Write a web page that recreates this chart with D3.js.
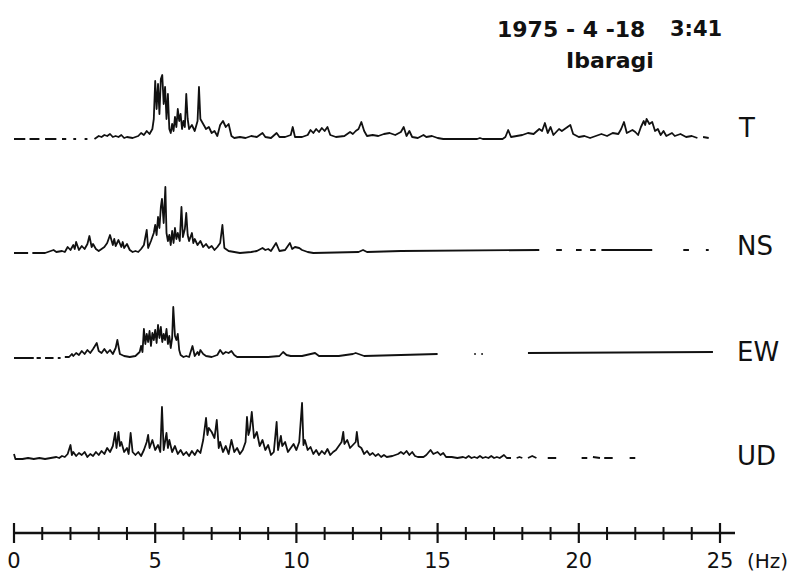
<!DOCTYPE html>
<html>
<head>
<meta charset="utf-8">
<script src="https://cdn.jsdelivr.net/npm/d3@7"></script>
<style>
  body { margin: 0; background: #fff; }
  svg { display: block; }
  text { font-family: "DejaVu Sans", sans-serif; fill: #111; }
</style>
</head>
<body>
<svg id="chart" width="803" height="574"></svg>
<script>
// Fourier spectra, 1975-4-18 3:41 Ibaragi. [frequency (Hz), amplitude]; null = break in the trace
const tSpectrum = [
  [0,0],[0.4,0],[0.45,null],[0.55,0],[0.9,0],[0.95,null],[1.1,0],[1.5,0],[1.55,null],[1.7,0],[1.85,0],[1.9,null],
  [2.1,0],[2.2,0],[2.25,null],[2.5,0],[2.6,0],[2.65,null],[2.85,0],
  [2.9,1],[3.0,3],[3.1,2],[3.2,4],[3.3,3],[3.4,5],[3.5,2],[3.6,3],[3.7,2],[3.8,4],[3.9,1],[4.0,2],[4.2,1],
  [4.4,3],[4.5,6],[4.6,4],[4.7,8],[4.8,5],[4.9,10],[4.95,20],[5.0,58],[5.05,30],[5.1,55],[5.15,25],[5.2,60],
  [5.25,64],[5.3,35],[5.35,52],[5.4,20],[5.45,45],[5.5,10],[5.55,6],[5.6,15],[5.65,8],[5.7,22],[5.75,12],
  [5.8,30],[5.85,18],[5.9,25],[5.95,10],[6.0,18],[6.05,12],[6.1,45],[6.15,20],[6.2,10],[6.3,14],[6.4,8],
  [6.5,18],[6.55,52],[6.6,20],[6.7,15],[6.8,10],[6.9,12],[7.0,6],[7.1,8],[7.2,3],[7.3,14],[7.4,18],[7.5,12],
  [7.6,15],[7.7,3],[7.8,1],[8.0,2],[8.2,1],[8.4,3],[8.6,2],[8.8,6],[8.9,2],[9.1,1],[9.3,6],[9.4,2],[9.6,2],
  [9.8,4],[9.87,12],[9.95,2],[10.2,2],[10.4,4],[10.5,9],[10.6,6],[10.7,10],[10.8,7],[10.9,11],[11.0,8],
  [11.1,12],[11.2,4],[11.4,2],[11.7,3],[11.9,7],[12.0,5],[12.1,8],[12.2,10],[12.3,17],[12.4,8],[12.5,3],
  [12.7,4],[12.9,3],[13.1,5],[13.3,6],[13.5,4],[13.7,7],[13.8,12],[13.9,3],[14.0,8],[14.1,2],[14.3,1],
  [14.5,4],[14.6,2],[14.8,3],[15.0,1],[15.2,0],[16.4,0],[16.5,1],[16.6,0],[17.3,0],[17.4,2],[17.5,9],
  [17.6,2],[17.8,3],[18.0,4],[18.2,6],[18.4,5],[18.6,10],[18.7,8],[18.8,16],[18.9,6],[19.0,12],[19.1,4],
  [19.3,10],[19.4,8],[19.6,12],[19.7,14],[19.8,5],[20.0,2],[20.2,3],[20.4,1],[20.6,3],[20.8,5],[21.0,3],
  [21.2,6],[21.4,5],[21.5,10],[21.6,17],[21.7,6],[21.9,9],[22.0,7],[22.1,4],[22.2,12],[22.3,18],[22.35,14],
  [22.4,20],[22.5,15],[22.6,17],[22.7,8],[22.8,10],[22.9,4],[23.0,8],[23.1,3],[23.3,6],[23.4,3],[23.6,5],
  [23.8,2],[24.0,3],[24.2,1],[24.3,null],[24.4,2],[24.6,1]
];

const nsSpectrum = [
  [0,0],[0.5,0],[0.55,null],[0.65,0],[1.1,0],[1.2,1],[1.4,3],[1.5,1],[1.7,2],[1.8,1],[1.9,6],[2.0,3],[2.1,8],
  [2.15,4],[2.2,11],[2.3,3],[2.4,7],[2.5,4],[2.6,9],[2.67,17],[2.75,6],[2.8,9],[2.9,4],[3.0,2],[3.1,4],
  [3.2,6],[3.3,10],[3.4,18],[3.5,8],[3.55,14],[3.6,7],[3.7,13],[3.8,6],[3.85,11],[3.9,5],[4.0,9],[4.1,3],
  [4.2,1],[4.3,2],[4.4,1],[4.5,4],[4.6,8],[4.7,23],[4.75,5],[4.85,12],[4.95,20],[5.0,28],[5.05,18],[5.1,36],
  [5.15,25],[5.2,46],[5.24,54],[5.3,30],[5.36,66],[5.4,20],[5.45,12],[5.5,18],[5.55,8],[5.6,22],[5.65,10],
  [5.7,25],[5.75,14],[5.8,20],[5.87,12],[5.93,46],[5.98,16],[6.05,24],[6.1,40],[6.15,18],[6.2,12],[6.3,20],
  [6.35,10],[6.4,14],[6.5,8],[6.6,12],[6.7,6],[6.8,9],[6.9,5],[7.0,7],[7.1,3],[7.2,6],[7.3,10],[7.38,28],
  [7.45,5],[7.6,2],[7.8,1],[8.0,0],[8.4,1],[8.6,2],[8.8,5],[8.9,3],[9.0,4],[9.1,2],[9.28,10],[9.4,2],
  [9.6,3],[9.77,10],[9.85,4],[9.95,6],[10.1,5],[10.2,3],[10.4,1],[10.6,0],[12.2,1],[12.36,3],[12.5,1],
  [13.7,2],[18.6,3],[18.65,null],[19.2,3],[19.4,3],[19.45,null],[19.9,3],[20.1,3],[20.15,null],[20.4,3],
  [20.6,3],[20.65,null],[20.8,3],[22.6,3],[22.65,null],[23.7,3],[23.9,3],[23.95,null],[24.5,3],[24.6,3]
];

const ewSpectrum = [
  [0,0],[0.7,0],[0.75,null],[0.8,0],[0.95,0],[1.0,null],[1.1,0],[1.4,0],[1.45,null],[1.55,0],[1.65,0],
  [1.7,null],[1.8,1],[1.95,1],[2.05,4],[2.1,2],[2.2,5],[2.3,3],[2.4,7],[2.5,4],[2.6,8],[2.7,5],[2.8,9],
  [2.93,15],[3.0,7],[3.1,5],[3.2,9],[3.3,5],[3.4,8],[3.5,4],[3.6,10],[3.66,18],[3.75,4],[3.9,2],[4.1,1],
  [4.3,2],[4.45,6],[4.5,12],[4.55,6],[4.6,29],[4.65,14],[4.7,24],[4.75,16],[4.8,27],[4.85,12],[4.9,25],
  [4.95,18],[5.0,28],[5.05,15],[5.1,33],[5.15,20],[5.2,31],[5.25,16],[5.3,24],[5.35,18],[5.4,29],[5.45,14],
  [5.5,22],[5.55,10],[5.6,20],[5.64,51],[5.7,22],[5.75,18],[5.8,24],[5.85,8],[5.9,3],[6.0,1],[6.1,2],
  [6.2,1],[6.32,12],[6.4,2],[6.5,6],[6.55,3],[6.6,8],[6.7,4],[6.8,2],[7.0,1],[7.1,2],[7.2,3],[7.3,8],
  [7.4,4],[7.5,6],[7.6,5],[7.7,7],[7.8,3],[7.9,1],[8.2,1],[8.6,1],[9.0,1],[9.4,2],[9.53,6],[9.65,3],
  [9.8,2],[10.2,2],[10.66,5],[10.8,2],[11.5,2],[12.0,4],[12.1,5],[12.2,4],[12.4,2],[13.7,3],[15.0,4],
  [15.05,null],[16.3,4],[16.35,4],[16.4,null],[16.55,4],[16.6,4],[16.65,null],[18.2,5],[24.75,6]
];

const udSpectrum = [
  [0,6],[0.05,1],[0.3,1],[0.5,2],[0.7,1],[0.9,2],[1.1,1],[1.3,2],[1.5,3],[1.6,2],[1.7,4],[1.8,3],[1.9,6],
  [2.0,15],[2.05,5],[2.1,8],[2.2,4],[2.3,7],[2.4,5],[2.5,8],[2.6,3],[2.7,6],[2.8,4],[2.9,8],[3.0,5],[3.1,9],
  [3.2,6],[3.3,12],[3.4,8],[3.5,14],[3.58,27],[3.63,12],[3.7,28],[3.75,14],[3.8,18],[3.9,8],[4.0,12],
  [4.06,6],[4.13,27],[4.2,8],[4.3,5],[4.4,8],[4.5,4],[4.6,10],[4.7,18],[4.75,25],[4.8,12],[4.9,20],[5.0,10],
  [5.1,15],[5.18,8],[5.24,53],[5.3,10],[5.4,27],[5.45,12],[5.5,20],[5.6,8],[5.7,14],[5.8,6],[5.9,10],
  [6.0,5],[6.1,8],[6.2,4],[6.3,9],[6.4,5],[6.5,10],[6.6,7],[6.7,20],[6.8,42],[6.85,25],[6.9,32],[7.0,28],
  [7.1,22],[7.18,40],[7.25,12],[7.3,18],[7.4,8],[7.5,14],[7.6,6],[7.7,20],[7.8,8],[7.9,12],[8.0,6],[8.1,10],
  [8.2,18],[8.25,43],[8.3,25],[8.35,30],[8.42,48],[8.5,22],[8.6,28],[8.7,14],[8.8,20],[8.9,10],[9.0,15],
  [9.1,5],[9.2,8],[9.3,38],[9.35,10],[9.45,24],[9.5,14],[9.6,18],[9.7,8],[9.8,12],[9.9,16],[10.0,10],
  [10.1,18],[10.2,57],[10.25,15],[10.3,20],[10.4,10],[10.5,13],[10.6,6],[10.7,10],[10.8,5],[10.9,9],
  [11.0,6],[11.1,11],[11.2,5],[11.3,8],[11.4,10],[11.5,14],[11.6,18],[11.66,28],[11.7,16],[11.8,20],
  [11.9,12],[12.0,15],[12.1,18],[12.14,28],[12.2,14],[12.3,12],[12.4,6],[12.5,9],[12.6,5],[12.7,7],[12.8,4],
  [12.9,6],[13.0,3],[13.1,5],[13.2,3],[13.4,4],[13.6,6],[13.7,8],[13.8,6],[13.9,9],[14.0,5],[14.1,8],
  [14.2,4],[14.3,3],[14.5,3],[14.6,5],[14.75,10],[14.85,6],[15.0,8],[15.1,5],[15.2,7],[15.3,3],[15.5,3],
  [15.7,2],[15.9,3],[16.0,2],[16.1,4],[16.2,2],[16.3,3],[16.4,2],[16.5,4],[16.6,2],[16.7,3],[16.8,2],
  [16.9,4],[17.0,2],[17.1,3],[17.2,2],[17.35,5],[17.45,2],[17.6,2],[17.65,null],[17.8,2],[17.9,3],[18.0,2],
  [18.05,null],[18.2,2],[18.35,4],[18.5,2],[18.55,null],[18.9,2],[19.2,2],[19.25,null],[20.1,2],[20.3,2],
  [20.35,null],[20.5,3],[20.75,2],[20.8,null],[20.9,2],[21.2,2],[21.25,null],[21.8,2],[22.0,2]
];

const traceNames = ['T', 'NS', 'EW', 'UD'];
const traceData = [tSpectrum, nsSpectrum, ewSpectrum, udSpectrum];
const majorTicks = [0, 5, 10, 15, 20, 25];
const minorTicks = d3.range(0, 26, 1);

const LAYOUT = {
  x0: 14,
  x1: 720,
  axisY: 533,
  axisEnd: 735,
  baselines: [139, 253, 358, 460],
  ampHeight: 70,
  labelX: 737,
  labelY: [137, 255, 361, 465]
};

const svg = d3.select('#chart');

const x = d3.scaleLinear().domain([0, 25]).range([LAYOUT.x0, LAYOUT.x1]);

function drawTrace (data, i) {
  var base = LAYOUT.baselines[i];
  var y = d3.scaleLinear().domain([0, 70]).range([base, base - LAYOUT.ampHeight]);
  var line = d3.line()
    .defined(d => d[1] !== null)
    .x(d => x(d[0]))
    .y(d => y(d[1]));

  svg.append('path')
    .datum(data)
    .attr('d', line)
    .attr('fill', 'none')
    .attr('stroke', '#111')
    .attr('stroke-width', 1.8)
    .attr('stroke-linejoin', 'round');

  svg.append('text')
    .attr('x', LAYOUT.labelX + (traceNames[i] === 'T' ? 2 : 0))
    .attr('y', LAYOUT.labelY[i])
    .attr('font-size', 26)
    .text(traceNames[i]);
}

traceData.forEach(drawTrace);

// frequency axis
var axisG = svg.append('g');

axisG.append('line')
  .attr('x1', LAYOUT.x0).attr('x2', LAYOUT.axisEnd)
  .attr('y1', LAYOUT.axisY).attr('y2', LAYOUT.axisY)
  .attr('stroke', '#111').attr('stroke-width', 2.5);

axisG.selectAll('.minor')
  .data(minorTicks.filter(t => majorTicks.indexOf(t) < 0))
  .enter().append('line')
  .attr('class', 'minor')
  .attr('x1', d => x(d)).attr('x2', d => x(d))
  .attr('y1', LAYOUT.axisY - 6).attr('y2', LAYOUT.axisY + 7)
  .attr('stroke', '#111').attr('stroke-width', 2);

axisG.selectAll('.major')
  .data(majorTicks)
  .enter().append('line')
  .attr('class', 'major')
  .attr('x1', d => x(d)).attr('x2', d => x(d))
  .attr('y1', LAYOUT.axisY - 10).attr('y2', LAYOUT.axisY + 10)
  .attr('stroke', '#111').attr('stroke-width', 2.2);

axisG.selectAll('.tickLabel')
  .data(majorTicks)
  .enter().append('text')
  .attr('class', 'tickLabel')
  .attr('x', d => x(d))
  .attr('y', 568)
  .attr('text-anchor', 'middle')
  .attr('font-size', 21)
  .text(d => d);

axisG.append('text')
  .attr('x', 747).attr('y', 568)
  .attr('font-size', 20)
  .text('(Hz)');

// heading
var headFont = '"Liberation Sans", Arial, sans-serif';

svg.append('text')
  .attr('x', 497).attr('y', 37)
  .attr('font-family', headFont)
  .attr('font-size', 22).attr('font-weight', 'bold')
  .text('1975 - 4 -18');

svg.append('text')
  .attr('x', 670).attr('y', 36)
  .attr('font-family', headFont)
  .attr('font-size', 21).attr('font-weight', 'bold')
  .text('3:41');

svg.append('text')
  .attr('x', 566).attr('y', 68)
  .attr('font-family', headFont)
  .attr('font-size', 22).attr('font-weight', 'bold')
  .text('Ibaragi');
</script>
</body>
</html>
